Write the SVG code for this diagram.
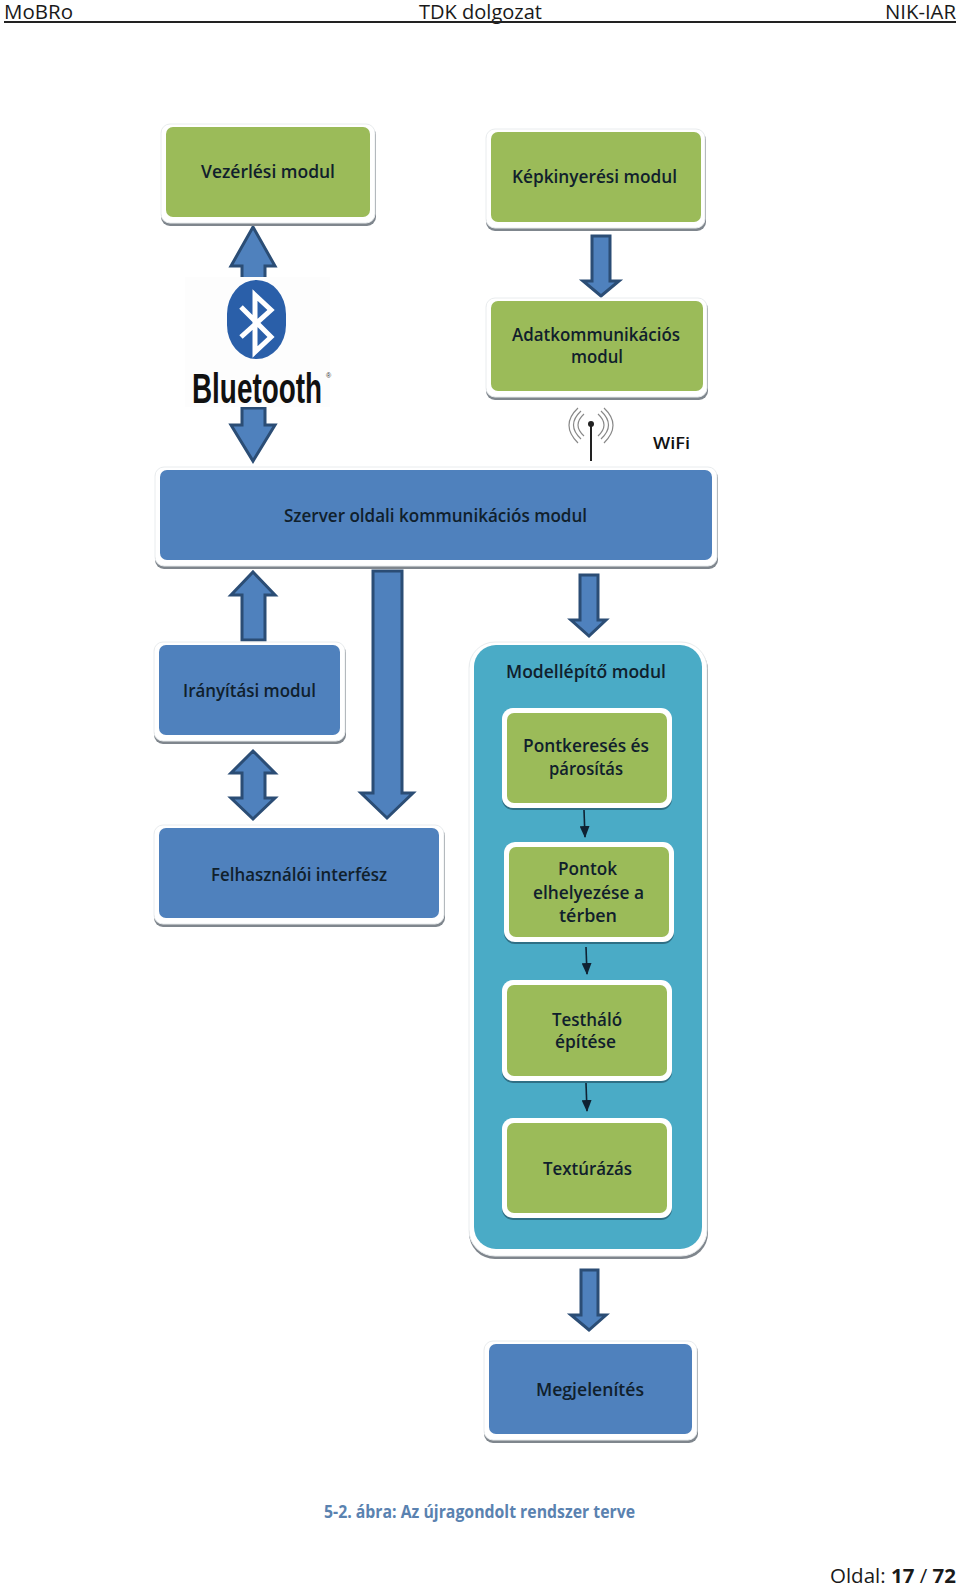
<svg xmlns="http://www.w3.org/2000/svg" width="960" height="1589" viewBox="0 0 960 1589">
<style>
text{font-family:"Open Sans","Noto Sans","Liberation Sans",sans-serif}
.sh{fill:#7f868d}
.fr{fill:#fff;stroke:#e9ecee;stroke-width:1}
.fi{fill:#fff}
.g{fill:#9bbb59}
.b{fill:#4f81bd}
.t{fill:#4aabc6}
.l{font-size:17.5px;font-weight:600;fill:#10202c;text-anchor:middle}
.ar{fill:#4f81bd;stroke:#2b4d75;stroke-width:3;stroke-linejoin:miter}
.th{fill:none;stroke:#0f2233;stroke-width:1.6}
.doc{font-size:20px;fill:#1a1a1a}
.wa{fill:none;stroke:#888;stroke-width:1.2}
</style>
<defs>
<marker id="m" markerUnits="userSpaceOnUse" markerWidth="12" markerHeight="10" refX="11" refY="5" orient="auto" viewBox="0 0 12 10"><path d="M0 0L12 5L0 10Z" fill="#0f2233"/></marker>
</defs>
<g id="header">
<text class="doc" x="4" y="19" textLength="69" lengthAdjust="spacingAndGlyphs">MoBRo</text>
<text class="doc" x="419" y="19" textLength="123" lengthAdjust="spacingAndGlyphs">TDK dolgozat</text>
<text class="doc" x="885" y="19" textLength="71" lengthAdjust="spacingAndGlyphs">NIK-IAR</text>
<rect x="4" y="21" width="952" height="2" fill="#222"/>
</g>
<g id="connectors">
<path class="ar" d="M253 227L275 266H265V280H242V266H231Z"/>
<path class="ar" d="M242 408H265V425H275L253 461L231 425H242Z"/>
<path class="ar" d="M592 236H610V281H619L601 296L583 281H592Z"/>
<path class="ar" d="M580 575H598V620H606L589 636L571 620H580Z"/>
<path class="ar" d="M253 572L275 595H265V640H242V595H231Z"/>
<path class="ar" d="M253 751L275 773H265V798H275L253 819L231 798H242V773H231Z"/>
<path class="ar" d="M373 571H402V793H413L387 818L361 793H373Z"/>
<path class="ar" d="M581 1270H598V1315H606L589 1330L571 1315H581Z"/>
</g>
<g id="bluetooth">
<rect x="185" y="277" width="145" height="130" fill="#fdfdfd"/>
<rect x="227" y="280" width="59" height="79" rx="29.5" ry="34" fill="#2a5fa9"/>
<path d="M241 307L271 337L255 352V295L271 310L241 337" fill="none" stroke="#fff" stroke-width="5"/>
<text x="192" y="403" font-size="42" font-weight="700" fill="#111" textLength="130" lengthAdjust="spacingAndGlyphs" style="font-family:'Liberation Sans',sans-serif">Bluetooth</text>
<text x="326" y="378" font-size="7" fill="#333" style="font-family:'Liberation Sans',sans-serif">®</text>
</g>
<g id="wifi">
<path class="wa" d="M578 408Q560 425 578 443M581 411Q566 425 581 439M584 414Q572 425 584 436M604 408Q622 425 604 443M601 411Q616 425 601 439M598 414Q610 425 598 436"/>
<line x1="591" y1="424" x2="591" y2="461" stroke="#222" stroke-width="2"/>
<circle cx="591" cy="424" r="3" fill="#222"/>
<text x="653" y="449" font-size="17" font-weight="600" fill="#111" textLength="37" lengthAdjust="spacingAndGlyphs">WiFi</text>
</g>
<g id="vezerlesi">
<rect class="sh" x="161" y="126" width="215" height="100" rx="9"/><rect class="fr" x="161" y="124" width="214" height="99" rx="9"/><rect class="g" x="166" y="127" width="204" height="90" rx="7"/>
<text class="l" x="268" y="178" textLength="134" lengthAdjust="spacingAndGlyphs">Vezérlési modul</text>
</g>
<g id="kepkinyeresi">
<rect class="sh" x="486" y="131" width="220" height="100" rx="9"/><rect class="fr" x="486" y="129" width="219" height="99" rx="9"/><rect class="g" x="491" y="132" width="210" height="90" rx="7"/>
<text class="l" x="594.5" y="183" textLength="165" lengthAdjust="spacingAndGlyphs">Képkinyerési modul</text>
</g>
<g id="adatkommunikacios">
<rect class="sh" x="486" y="300" width="222" height="100" rx="9"/><rect class="fr" x="486" y="298" width="221" height="99" rx="9"/><rect class="g" x="491" y="301" width="212" height="90" rx="7"/>
<text class="l" x="596" y="341" textLength="168" lengthAdjust="spacingAndGlyphs">Adatkommunikációs</text>
<text class="l" x="597" y="363" textLength="52" lengthAdjust="spacingAndGlyphs">modul</text>
</g>
<g id="szerver">
<rect class="sh" x="155" y="469" width="563" height="100" rx="9"/><rect class="fr" x="155" y="467" width="562" height="99" rx="9"/><rect class="b" x="160" y="470" width="552" height="90" rx="7"/>
<text class="l" x="435.5" y="522" textLength="303" lengthAdjust="spacingAndGlyphs">Szerver oldali kommunikációs modul</text>
</g>
<g id="iranyitasi">
<rect class="sh" x="154" y="644" width="192" height="100" rx="9"/><rect class="fr" x="154" y="642" width="191" height="99" rx="9"/><rect class="b" x="159" y="645" width="181" height="90" rx="7"/>
<text class="l" x="249.5" y="697" textLength="133" lengthAdjust="spacingAndGlyphs">Irányítási modul</text>
</g>
<g id="felhasznaloi">
<rect class="sh" x="154" y="827" width="291" height="100" rx="9"/><rect class="fr" x="154" y="825" width="290" height="99" rx="9"/><rect class="b" x="159" y="828" width="280" height="90" rx="7"/>
<text class="l" x="299" y="881" textLength="176" lengthAdjust="spacingAndGlyphs">Felhasználói interfész</text>
</g>
<g id="modellepito">
<rect class="sh" x="469" y="644" width="239" height="615" rx="26"/><rect class="fr" x="469" y="642" width="238" height="614" rx="26"/><rect class="t" x="474" y="645" width="228" height="604" rx="22"/>
<text class="l" x="586" y="678" textLength="160" lengthAdjust="spacingAndGlyphs">Modellépítő modul</text>
</g>
<g id="pontkereses">
<rect x="502" y="710" width="170" height="100" rx="11" fill="#2f6f85"/><rect class="fi" x="502" y="708" width="170" height="100" rx="11"/><rect class="g" x="507" y="713" width="160" height="90" rx="7"/>
<text class="l" x="586" y="752" textLength="126" lengthAdjust="spacingAndGlyphs">Pontkeresés és</text>
<text class="l" x="586" y="775" textLength="74" lengthAdjust="spacingAndGlyphs">párosítás</text>
</g>
<g id="pontok">
<rect x="504" y="844" width="170" height="100" rx="11" fill="#2f6f85"/><rect class="fi" x="504" y="842" width="170" height="100" rx="11"/><rect class="g" x="509" y="847" width="160" height="90" rx="7"/>
<text class="l" x="587.5" y="875" textLength="59" lengthAdjust="spacingAndGlyphs">Pontok</text>
<text class="l" x="588.5" y="899" textLength="111" lengthAdjust="spacingAndGlyphs">elhelyezése a</text>
<text class="l" x="588" y="922" textLength="58" lengthAdjust="spacingAndGlyphs">térben</text>
</g>
<g id="testhalo">
<rect x="502" y="982" width="170" height="101" rx="11" fill="#2f6f85"/><rect class="fi" x="502" y="980" width="170" height="101" rx="11"/><rect class="g" x="507" y="985" width="160" height="91" rx="7"/>
<text class="l" x="587" y="1026" textLength="70" lengthAdjust="spacingAndGlyphs">Testháló</text>
<text class="l" x="585.5" y="1048" textLength="61" lengthAdjust="spacingAndGlyphs">építése</text>
</g>
<g id="texturazas">
<rect x="502" y="1120" width="170" height="100" rx="11" fill="#2f6f85"/><rect class="fi" x="502" y="1118" width="170" height="100" rx="11"/><rect class="g" x="507" y="1123" width="160" height="90" rx="7"/>
<text class="l" x="587.5" y="1175" textLength="89" lengthAdjust="spacingAndGlyphs">Textúrázás</text>
</g>
<g id="megjelenites">
<rect class="sh" x="484" y="1343" width="214" height="100" rx="9"/><rect class="fr" x="484" y="1341" width="213" height="99" rx="9"/><rect class="b" x="489" y="1344" width="203" height="90" rx="7"/>
<text class="l" x="590" y="1396" textLength="108" lengthAdjust="spacingAndGlyphs">Megjelenítés</text>
</g>
<g id="inner-connectors">
<line class="th" x1="584" y1="810" x2="585" y2="837" marker-end="url(#m)"/>
<line class="th" x1="586" y1="947" x2="587" y2="974" marker-end="url(#m)"/>
<line class="th" x1="586" y1="1083" x2="587" y2="1111" marker-end="url(#m)"/>
</g>
<g id="footer">
<text x="324" y="1518" font-size="18" font-weight="700" fill="#5a82b0" textLength="311" lengthAdjust="spacingAndGlyphs">5-2. ábra: Az újragondolt rendszer terve</text>
<text x="830" y="1583" font-size="20" fill="#1a1a1a" textLength="126" lengthAdjust="spacingAndGlyphs">Oldal: <tspan font-weight="700">17</tspan> / <tspan font-weight="700">72</tspan></text>
</g>
</svg>
